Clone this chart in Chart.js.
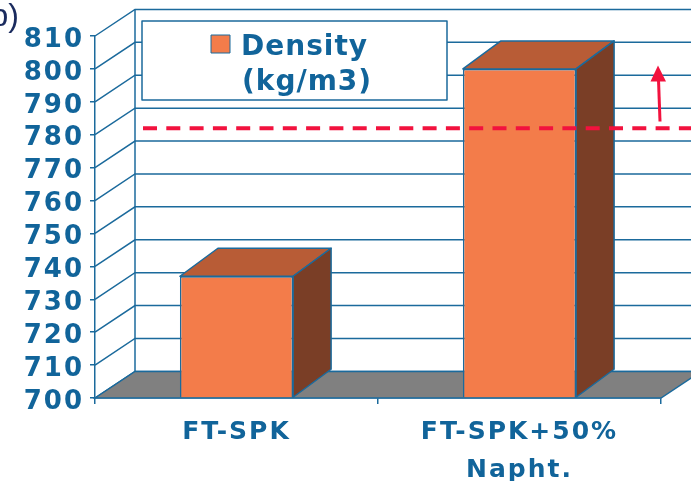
<!DOCTYPE html>
<html>
<head>
<meta charset="utf-8">
<script src="https://cdn.jsdelivr.net/npm/chart.js@4.4.1/dist/chart.umd.min.js"></script>
<style>
  html, body { margin: 0; padding: 0; background: #fff; }
  #wrap { width: 691px; height: 481px; }
</style>
</head>
<body>
<div id="wrap"><canvas id="densityChart"></canvas></div>
<script>
const categories = [['FT-SPK'], ['FT-SPK+50%', 'Napht.']];
const densityValues = [737, 800];
const yTicks = [700, 710, 720, 730, 740, 750, 760, 770, 780, 790, 800, 810];
const limitValue = [782];
const arrowRange = [784, 801];
const seriesLabel = ['Density', '(kg/m3)'];

const BLUE = '#11649a';
const LINE = '#1b6a9c';
const FRONT = '#F37C4A';
const TOP = '#B85C36';
const SIDE = '#7A3E26';
const FLOOR = '#808080';
const RED = '#F2123E';

// depth of the walls / floor and of the bars
const DX = 40, DY = -26.6;
const BDX = 38, BDY = -28;

const box3d = {
  id: 'box3d',
  beforeDraw(chart) {
    chart.ctx.letterSpacing = '2px';
  },
  beforeDatasetsDraw(chart) {
    const { ctx, chartArea: a, scales: { y } } = chart;
    ctx.save();
    ctx.letterSpacing = '0px';
    ctx.strokeStyle = LINE;
    ctx.lineWidth = 1.5;

    // side wall diagonals + back wall gridlines
    yTicks.forEach(v => {
      const py = y.getPixelForValue(v);
      ctx.beginPath();
      ctx.moveTo(a.left, py);
      ctx.lineTo(a.left + DX, py + DY);
      ctx.lineTo(chart.width, py + DY);
      ctx.stroke();
    });
    ctx.beginPath();
    ctx.moveTo(a.left + DX, a.top + DY);
    ctx.lineTo(a.left + DX, a.bottom + DY);
    ctx.stroke();

    // floor
    ctx.beginPath();
    ctx.moveTo(a.left, a.bottom);
    ctx.lineTo(a.right, a.bottom);
    ctx.lineTo(a.right + DX, a.bottom + DY);
    ctx.lineTo(a.left + DX, a.bottom + DY);
    ctx.closePath();
    ctx.fillStyle = FLOOR;
    ctx.fill();
    ctx.stroke();
    ctx.restore();
  },
  afterDatasetsDraw(chart) {
    const { ctx, chartArea: a, scales: { y } } = chart;
    ctx.save();
    ctx.letterSpacing = '0px';
    ctx.strokeStyle = LINE;
    ctx.lineWidth = 1.5;
    ctx.lineJoin = 'round';

    // top and side faces of the bars
    chart.getDatasetMeta(0).data.forEach(bar => {
      const { x, y: top, base, width } = bar.getProps(['x', 'y', 'base', 'width'], true);
      const l = x - width / 2, r = x + width / 2;
      ctx.beginPath();
      ctx.moveTo(l, top);
      ctx.lineTo(l + BDX, top + BDY);
      ctx.lineTo(r + BDX, top + BDY);
      ctx.lineTo(r, top);
      ctx.closePath();
      ctx.fillStyle = TOP;
      ctx.fill();
      ctx.stroke();

      ctx.beginPath();
      ctx.moveTo(r, top);
      ctx.lineTo(r + BDX, top + BDY);
      ctx.lineTo(r + BDX, base + BDY);
      ctx.lineTo(r, base);
      ctx.closePath();
      ctx.fillStyle = SIDE;
      ctx.fill();
      ctx.stroke();
    });

    // legend box
    const lx = a.left + 47, ly = 21;
    ctx.fillStyle = '#fff';
    ctx.fillRect(lx, ly, 305, 79);
    ctx.strokeRect(lx, ly, 305, 79);
    ctx.lineWidth = 1;
    ctx.fillStyle = FRONT;
    ctx.fillRect(lx + 69, 35, 19, 18);
    ctx.strokeRect(lx + 69, 35, 19, 18);
    ctx.fillStyle = BLUE;
    ctx.font = 'bold 28px "DejaVu Sans"';
    ctx.letterSpacing = '1px';
    ctx.textAlign = 'left';
    ctx.textBaseline = 'alphabetic';
    ctx.fillText(seriesLabel[0], lx + 99, 55);
    ctx.fillText(seriesLabel[1], lx + 100, 90);

    // dashed limit line
    const ly2 = y.getPixelForValue(limitValue[0]);
    ctx.beginPath();
    ctx.setLineDash([14, 9.3]);
    ctx.strokeStyle = RED;
    ctx.lineWidth = 4;
    ctx.moveTo(a.left + DX + 8, ly2);
    ctx.lineTo(chart.width, ly2);
    ctx.stroke();
    ctx.setLineDash([]);

    // arrow
    const ax = a.right - 1;
    const y0 = y.getPixelForValue(arrowRange[0]);
    const y1 = y.getPixelForValue(arrowRange[1]);
    ctx.lineWidth = 3;
    ctx.beginPath();
    ctx.moveTo(ax, y0);
    ctx.lineTo(ax - 1.5, y1 + 14);
    ctx.stroke();
    ctx.beginPath();
    ctx.moveTo(ax - 2, y1);
    ctx.lineTo(ax - 9.5, y1 + 16);
    ctx.lineTo(ax + 6, y1 + 16);
    ctx.closePath();
    ctx.fillStyle = RED;
    ctx.fill();

    // panel tag, cut by the left edge
    ctx.fillStyle = '#1a2b5e';
    ctx.font = '32px "Liberation Sans"';
    ctx.letterSpacing = '0px';
    ctx.textAlign = 'right';
    ctx.fillText('b)', 19, 26);
    ctx.restore();
  }
};

new Chart(document.getElementById('densityChart'), {
  type: 'bar',
  data: {
    labels: categories,
    datasets: [{
      label: seriesLabel.join(' '),
      data: densityValues,
      base: yTicks[0],
      backgroundColor: FRONT,
      borderColor: LINE,
      borderWidth: 1.5,
      categoryPercentage: 1,
      barPercentage: 0.4
    }]
  },
  options: {
    responsive: true,
    maintainAspectRatio: false,
    animation: false,
    layout: { padding: { top: 36, right: 30, left: 0, bottom: 0 } },
    plugins: {
      legend: { display: false },
      tooltip: { enabled: false }
    },
    scales: {
      x: {
        afterFit: s => { s.height = 83; },
        grid: { drawOnChartArea: false, tickLength: 6, color: LINE, lineWidth: 1.5, offset: true },
        border: { color: LINE, width: 1.5 },
        ticks: {
          color: BLUE,
          padding: 9,
          maxRotation: 0,
          autoSkip: false,
          font: { family: 'DejaVu Sans', size: 25, weight: 'bold', lineHeight: '38px' }
        }
      },
      y: {
        min: yTicks[0],
        max: yTicks[yTicks.length - 1],
        afterFit: s => { s.width = 95; },
        grid: { drawOnChartArea: false, tickLength: 5, color: LINE, lineWidth: 1.5 },
        border: { color: LINE, width: 1.5 },
        ticks: {
          stepSize: yTicks[1] - yTicks[0],
          autoSkip: false,
          color: BLUE,
          padding: 6,
          labelOffset: 4,
          font: { family: 'DejaVu Sans', size: 26, weight: 'bold' }
        }
      }
    }
  },
  plugins: [box3d]
});
</script>
</body>
</html>
